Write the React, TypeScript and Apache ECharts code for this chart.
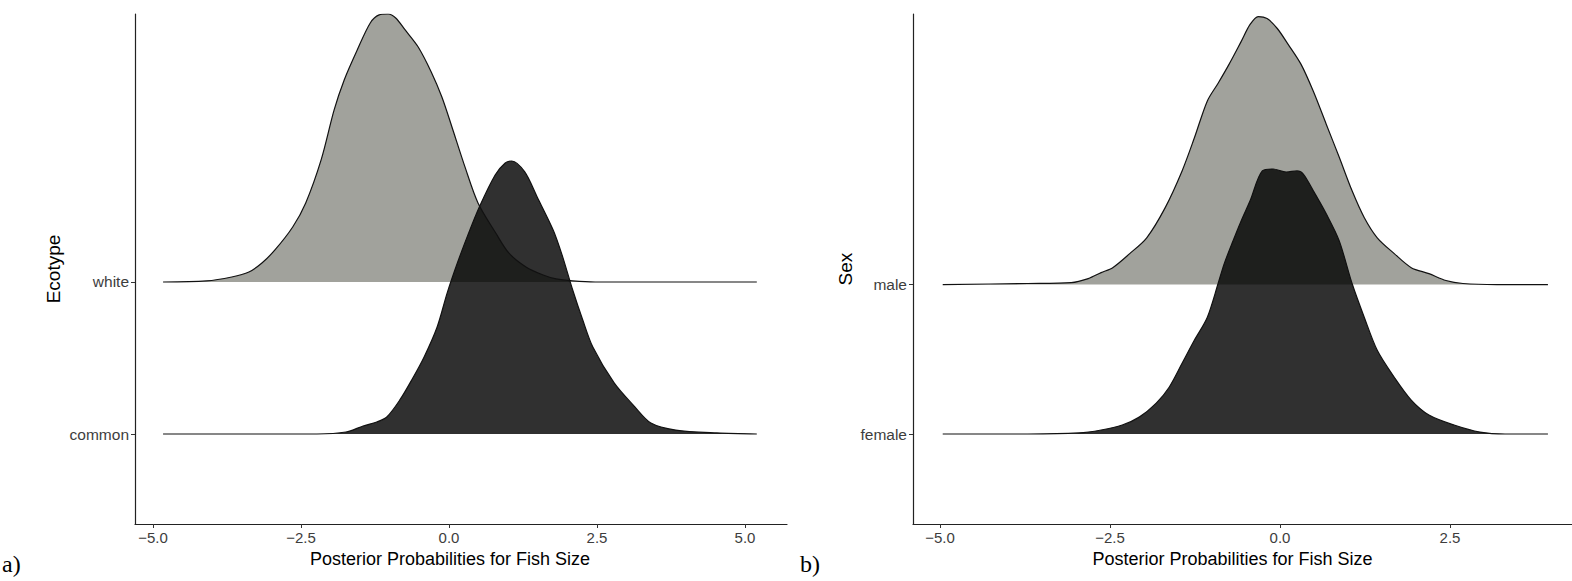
import React, { useEffect, useRef } from "react";
import * as echarts from "echarts";

// Panel a) Ecotype
const ecoCategories = ["common", "white"];
const whiteX = [-4.83, -4.1, -3.67, -3.38, -3.16, -2.94, -2.64, -2.42, -2.16, -1.94, -1.77, -1.55, -1.33, -1.18, -1.03, -0.9, -0.74, -0.52, -0.3, -0.12, 0.05, 0.27, 0.49, 0.79, 1.01, 1.3, 1.59, 1.81, 2.09, 2.47, 5.2];
const whiteH = [0, 0.007, 0.033, 0.066, 0.125, 0.211, 0.362, 0.52, 0.803, 1.132, 1.329, 1.526, 1.704, 1.757, 1.763, 1.737, 1.658, 1.546, 1.382, 1.217, 1.02, 0.757, 0.52, 0.322, 0.191, 0.099, 0.046, 0.02, 0.007, 0, 0];
const commonX = [-4.83, -2.23, -1.74, -1.45, -1.22, -1.05, -0.83, -0.63, -0.42, -0.2, -0.03, 0.14, 0.32, 0.52, 0.78, 0.95, 1.06, 1.28, 1.49, 1.76, 1.91, 2.09, 2.26, 2.43, 2.79, 3.14, 3.41, 3.83, 4.53, 5.2];
const commonH = [0, 0, 0.013, 0.053, 0.079, 0.112, 0.224, 0.355, 0.507, 0.704, 0.928, 1.123, 1.31, 1.5, 1.704, 1.783, 1.796, 1.724, 1.559, 1.342, 1.178, 0.947, 0.75, 0.572, 0.336, 0.178, 0.072, 0.026, 0.007, 0];

// Panel b) Sex
const sexCategories = ["female", "male"];
const maleX = [-4.96, -3.71, -3.07, -2.82, -2.63, -2.46, -2.21, -1.96, -1.69, -1.44, -1.26, -1.07, -0.91, -0.75, -0.57, -0.44, -0.32, -0.19, -0.04, 0.12, 0.31, 0.49, 0.68, 0.87, 1.06, 1.24, 1.43, 1.68, 1.93, 2.19, 2.44, 2.69, 3.19, 3.94];
const maleH = [0, 0.007, 0.013, 0.04, 0.08, 0.113, 0.207, 0.313, 0.513, 0.76, 0.98, 1.227, 1.347, 1.473, 1.627, 1.74, 1.793, 1.78, 1.713, 1.607, 1.473, 1.293, 1.073, 0.853, 0.627, 0.447, 0.313, 0.207, 0.113, 0.073, 0.027, 0.007, 0, 0];
const femaleX = [-4.96, -3.71, -2.96, -2.63, -2.32, -2.07, -1.82, -1.63, -1.44, -1.26, -1.07, -0.91, -0.82, -0.69, -0.57, -0.44, -0.26, -0.1, 0.09, 0.25, 0.34, 0.49, 0.68, 0.87, 1.06, 1.24, 1.43, 1.68, 1.93, 2.19, 2.56, 2.94, 3.31, 3.94];
const femaleH = [0, 0, 0.007, 0.027, 0.06, 0.113, 0.207, 0.313, 0.473, 0.627, 0.78, 1.007, 1.14, 1.293, 1.427, 1.56, 1.76, 1.773, 1.753, 1.76, 1.74, 1.627, 1.473, 1.293, 1.007, 0.78, 0.56, 0.38, 0.227, 0.127, 0.06, 0.013, 0, 0];

const xTicksA = [-5, -2.5, 0, 2.5, 5];
const xTicksB = [-5, -2.5, 0, 2.5];
const xTitle = "Posterior Probabilities for Fish Size";

const FONT = '"Liberation Sans", Arial, Helvetica, sans-serif';
const GRAY = "#a1a29c";
const DARK = "rgba(0,0,0,0.81)";

function ridge(xs: number[], hs: number[], base: number, axis: number, fill: string) {
  return {
    type: "line",
    xAxisIndex: axis,
    yAxisIndex: axis,
    data: xs.map((x, i) => [x, base + hs[i]]),
    showSymbol: false,
    smooth: 0.3,
    lineStyle: { color: "#111", width: 1.2 },
    areaStyle: { color: fill, opacity: 1, origin: base },
    silent: true,
  };
}

const fmt = (v: number) => v.toFixed(1).replace("-", "\u2212");

function xAxis(idx: number, min: number, max: number, ticks: number[], pad: number) {
  return {
    type: "value",
    gridIndex: idx,
    min,
    max,
    name: xTitle,
    nameLocation: "middle",
    nameGap: 22,
    nameTextStyle: { fontFamily: FONT, fontSize: 18, color: "#000", padding: [0, pad, 0, 0] },
    axisLine: { show: true, onZero: false, lineStyle: { color: "#222", width: 1.2 } },
    axisTick: { show: true, length: 4, customValues: ticks, lineStyle: { color: "#333" } },
    axisLabel: { customValues: ticks, formatter: fmt, margin: 6, fontFamily: FONT, fontSize: 15, color: "#3d3d3d" },
    splitLine: { show: false },
  };
}

function yAxis(idx: number, min: number, max: number, cats: string[], name: string, gap: number) {
  return {
    type: "value",
    gridIndex: idx,
    min,
    max,
    name,
    nameLocation: "middle",
    nameGap: gap,
    nameTextStyle: { fontFamily: FONT, fontSize: 19, color: "#000" },
    axisLine: { show: true, onZero: false, lineStyle: { color: "#222", width: 1.2 } },
    axisTick: { show: true, length: 4, customValues: [1, 2], lineStyle: { color: "#333" } },
    axisLabel: { customValues: [1, 2], formatter: (v: number) => cats[Math.round(v) - 1], margin: 6, fontFamily: FONT, fontSize: 15.5, color: "#3d3d3d" },
    splitLine: { show: false },
  };
}

export default function App() {
  const ref = useRef<HTMLDivElement>(null);
  useEffect(() => {
    if (!ref.current) return;
    const chart = echarts.init(ref.current, null, { renderer: "svg" });
    chart.setOption({
      animation: false,
      backgroundColor: "#fff",
      grid: [
        { left: 135, top: 14, width: 652, height: 510 },
        { left: 913, top: 14, width: 659, height: 510 },
      ],
      xAxis: [xAxis(0, -5.304, 5.71, xTicksA, 22), xAxis(1, -5.397, 4.294, xTicksB, 20)],
      yAxis: [
        yAxis(0, 0.408, 3.763, ecoCategories, "Ecotype", 72),
        yAxis(1, 0.398, 3.81, sexCategories, "Sex", 58),
      ],
      series: [
        ridge(whiteX, whiteH, 2, 0, GRAY),
        ridge(commonX, commonH, 1, 0, DARK),
        ridge(maleX, maleH, 2, 1, GRAY),
        ridge(femaleX, femaleH, 1, 1, DARK),
      ],
      graphic: [
        { type: "text", left: 2, top: 552, style: { text: "a)", font: '24px "Liberation Serif", "Times New Roman", serif', fill: "#000" } },
        { type: "text", left: 800, top: 552, style: { text: "b)", font: '24px "Liberation Serif", "Times New Roman", serif', fill: "#000" } },
      ],
    });
    return () => chart.dispose();
  }, []);
  return <div ref={ref} style={{ position: "fixed", left: 0, top: 0, width: 1572, height: 581 }} />;
}
